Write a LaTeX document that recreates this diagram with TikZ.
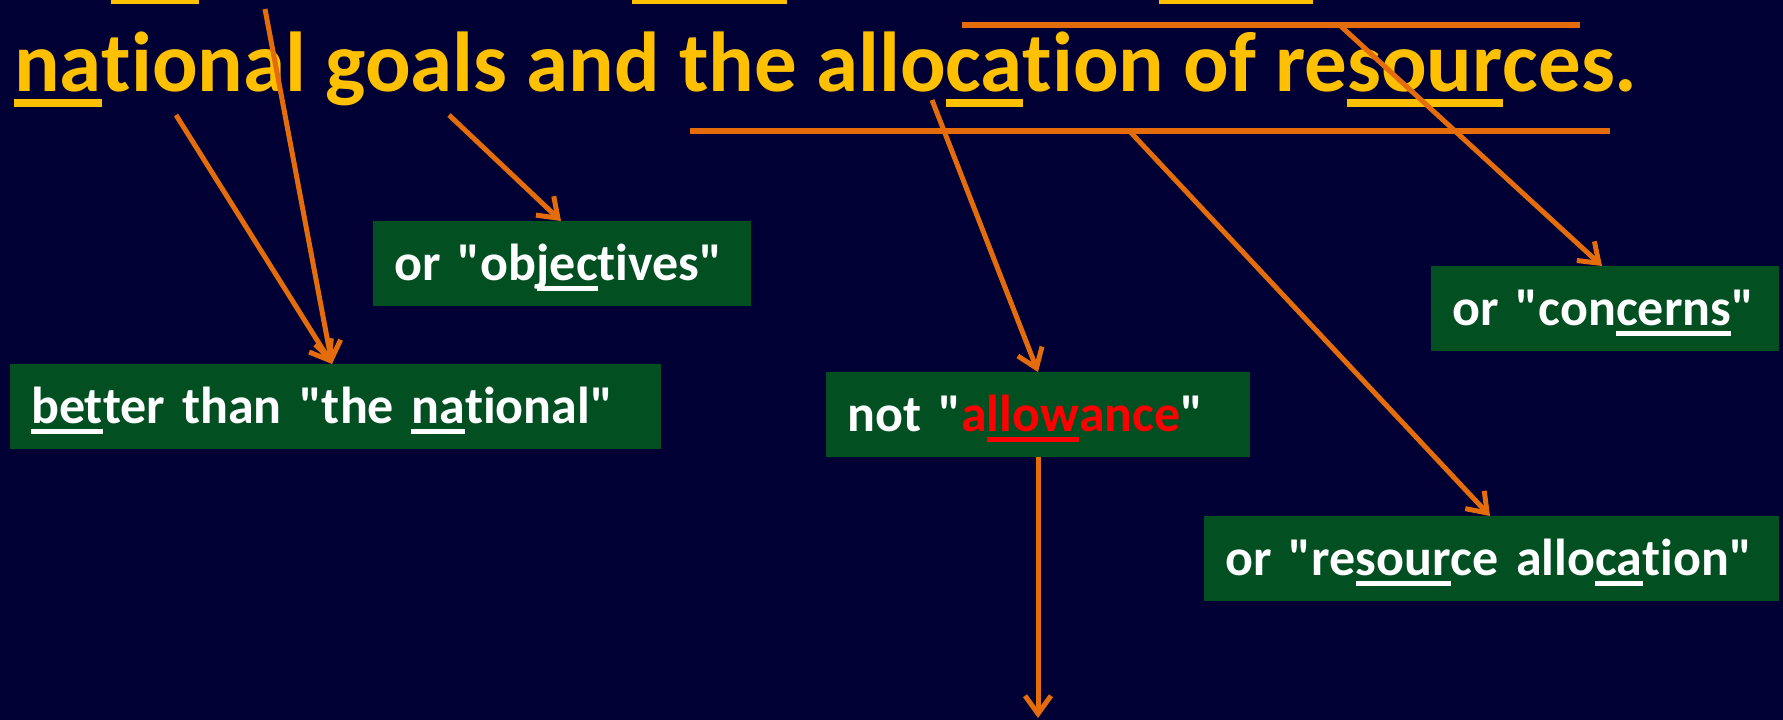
\documentclass[tikz,border=0pt]{standalone}
\usepackage{fontspec}
\setmainfont{Carlito}[Ligatures={TeXOff,CommonOff}]
\usetikzlibrary{arrows.meta,calc}
\definecolor{bg}{HTML}{000035}
\definecolor{boxgreen}{HTML}{024F22}
\definecolor{org}{HTML}{E46C0A}
\definecolor{ylw}{HTML}{FFC000}
\definecolor{redw}{HTML}{FF0000}
\newlength\ulgap \newlength\ulth
\newcommand\myul[1]{\setbox0\hbox{#1}\rlap{\rule[-\dimexpr\ulgap+\ulth\relax]{\wd0}{\ulth}}\box0}
\tikzset{
  arr/.style={draw=org, line width=5pt, -{Straight Barb[length=18pt,width=26pt]}},
  orgline/.style={draw=org, line width=6pt},
  box/.style={fill=boxgreen, text=white, font=\bfseries\fontsize{52}{62}\selectfont,
    inner xsep=21pt, inner ysep=0pt, text height=59.5pt, text depth=25.5pt,
    align=left, anchor=north west, execute at begin node={\setlength\ulgap{5pt}\setlength\ulth{5pt}}},
  title/.style={text=ylw, font=\bfseries\fontsize{85}{100}\selectfont, inner sep=0pt, anchor=base west,
    execute at begin node={\setlength\ulgap{8pt}\setlength\ulth{8pt}}}
}
\begin{document}
\begin{tikzpicture}[x=1pt,y=-1pt]
\useasboundingbox (0,0) rectangle (1783,720);
\fill[bg] (0,0) rectangle (1783,720);
% remnants of the line above
\fill[ylw] (111,0) rectangle (199,4);
\fill[ylw] (632,0) rectangle (787,4);
\fill[ylw] (1159,0) rectangle (1313,4);
% title
\node[title] (ttl) at (14,91) {\myul{na}tional goals and the allo\myul{ca}tion of re\myul{sour}ces.};
% boxes
\node[box, text width=336pt] (obj) at (373,221) {or "ob\myul{jec}tives"};
\node[box, text width=609pt] (bet) at (10,364) {\myul{bet}ter than "the \myul{na}tional"};
\node[box, text width=382pt] (alw) at (826,372) {not "{\color{redw}a\myul{llow}ance}"};
\node[box, text width=306pt] (con) at (1431,266) {or "con\myul{cerns}"};
\node[box, text width=533pt] (res) at (1204,516) {or "re\myul{sour}ce allo\myul{ca}tion"};
% orange bars
\coordinate (t1) at (962,24.5);
\coordinate (t2) at (1580,24.5);
\coordinate (m1) at (690,130.5);
\coordinate (m2) at (1610,130.5);
\draw[orgline] (t1) -- (t2);
\draw[orgline] (m1) -- (m2);
% arrow sources
\coordinate (s1) at (176,115);
\coordinate (s2) at (265,9);
\coordinate (s3) at (449,115);
\coordinate (s4) at (932,100);
\coordinate (s6) at (1129,130.5);
\coordinate (s7) at (1339,24.5);
\coordinate (e5) at (1038,718);
% arrows
\draw[arr] (s1) -- ([xshift=322pt]bet.north west);
\draw[arr] (s2) -- ([xshift=322pt]bet.north west);
\draw[arr] (s3) -- ([xshift=188pt]obj.north west);
\draw[arr] (s4) -- ([xshift=212pt]alw.north west);
\draw[arr] ([xshift=212pt]alw.south west) -- (e5);
\draw[arr] (s6) -- ([xshift=286pt]res.north west);
\draw[arr] (s7) -- ([xshift=171pt]con.north west);
\end{tikzpicture}
\end{document}
